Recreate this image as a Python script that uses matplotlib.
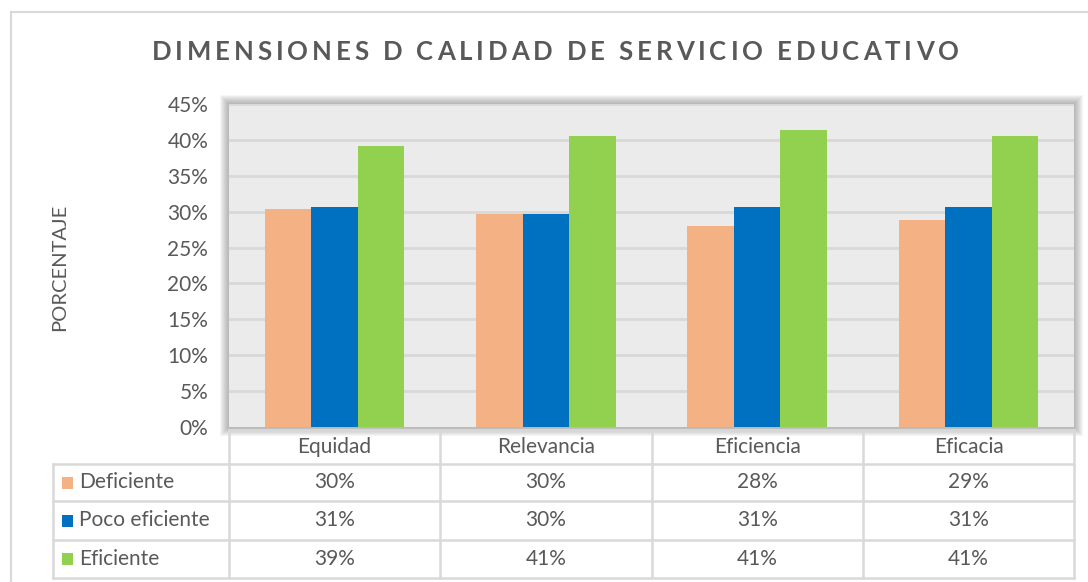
import matplotlib
matplotlib.use("Agg")
import matplotlib.pyplot as plt
from matplotlib.patches import Rectangle
from matplotlib.lines import Line2D

# ---------------- data ----------------
categories = ["Equidad", "Relevancia", "Eficiencia", "Eficacia"]
series_names = ["Deficiente", "Poco eficiente", "Eficiente"]
deficiente = [30.4, 29.7, 28.0, 28.9]
poco_eficiente = [30.6, 29.7, 30.6, 30.6]
eficiente = [39.1, 40.55, 41.4, 40.55]
yticks = [0, 5, 10, 15, 20, 25, 30, 35, 40, 45]
ytick_labels = [f"{t}%" for t in yticks]
title = "DIMENSIONES D CALIDAD DE SERVICIO EDUCATIVO"
ylabel = "PORCENTAJE"

series = [deficiente, poco_eficiente, eficiente]
colors = ["#F4B183", "#0070C0", "#92D050"]
TXT = "#595959"
GRID = "#D9D9D9"
FONT = ["Lato", "DejaVu Sans"]
FS = 15

W, H = 1088, 582
fig = plt.figure(figsize=(W / 100, H / 100), dpi=100)
fig.patch.set_facecolor("white")


def fx(x):
    return x / W


def fy(y):
    return 1 - y / H


# outer chart border
fig.add_artist(Rectangle((fx(11), fy(600)), fx(1100) - fx(11), fy(12) - fy(600),
                         transform=fig.transFigure, facecolor="none",
                         edgecolor="#D9D9D9", lw=1.5, zorder=0))

# plot area geometry
L, R, T, B = 229, 1074, 104, 427

# soft shadow around the plot area
for i in range(1, 10):
    fig.add_artist(Rectangle((fx(L - i), fy(B + i)), fx(R + i) - fx(L - i), fy(T - i) - fy(B + i),
                             transform=fig.transFigure, facecolor="#707070",
                             edgecolor="none", alpha=0.065, zorder=0.5))

ax = fig.add_axes([fx(L), fy(B), fx(R) - fx(L), fy(T) - fy(B)], zorder=2)
ax.set_facecolor("#EBEBEB")
ax.set_xlim(-0.5, len(categories) - 0.5)
ax.set_ylim(0, 45)
bw = 0.22
for k, (vals, c) in enumerate(zip(series, colors)):
    xs = [i + (k - 1) * bw for i in range(len(categories))]
    ax.bar(xs, vals, width=bw, color=c, zorder=3, linewidth=0)
for t in yticks[1:]:
    ax.axhline(t, color=GRID, lw=2, zorder=1)
ax.set_yticks(yticks)
ax.set_yticklabels(ytick_labels, fontsize=FS, color=TXT, family=FONT)
ax.tick_params(axis="y", length=0, pad=15)
ax.set_xticks([])
for s in ax.spines.values():
    s.set_visible(False)

# y label
fig.text(fx(60), fy(267), ylabel, rotation=90, ha="center", va="center",
         fontsize=14.5, color=TXT, family=FONT)

# title with letter spacing
fs_title = 18.5
tracking = 3.9  # px
renderer = fig.canvas.get_renderer()
widths = []
for ch in title:
    tt = fig.text(0, 0, ch if ch != " " else "i", fontsize=fs_title, family=FONT, weight="bold")
    bb = tt.get_window_extent(renderer)
    widths.append(bb.width if ch != " " else bb.width * 0.9)
    tt.remove()
total = sum(widths) + tracking * (len(title) - 1)
cx = 555
x0 = cx - total / 2
xpos = x0
for ch, w in zip(title, widths):
    if ch != " ":
        fig.text(fx(xpos), fy(52), ch, fontsize=fs_title, family=FONT, weight="bold",
                 color=TXT, ha="left", va="center")
    xpos += w + tracking

# ---------------- data table ----------------
col_edges = [229, 440, 652, 863, 1074]
row_edges = [430, 464, 501, 540, 578]
leg_left = 53
lc = GRID
lw = 1.8


def hline(y, x1, x2):
    fig.add_artist(Line2D([fx(x1), fx(x2)], [fy(y), fy(y)], transform=fig.transFigure,
                          color=lc, lw=lw, zorder=3))


def vline(x, y1, y2):
    fig.add_artist(Line2D([fx(x), fx(x)], [fy(y1), fy(y2)], transform=fig.transFigure,
                          color=lc, lw=lw, zorder=3))


hline(row_edges[0], col_edges[0], col_edges[-1])
for y in row_edges[1:]:
    hline(y, leg_left, col_edges[-1])
for x in col_edges:
    vline(x, row_edges[0], row_edges[-1])
vline(leg_left, row_edges[1], row_edges[-1])

for j, cat in enumerate(categories):
    xc = (col_edges[j] + col_edges[j + 1]) / 2
    yc = (row_edges[0] + row_edges[1]) / 2
    fig.text(fx(xc), fy(yc), cat, ha="center", va="center", fontsize=FS,
             color=TXT, family=FONT, zorder=4)

for r, (name, vals, c) in enumerate(zip(series_names, series, colors)):
    yc = (row_edges[r + 1] + row_edges[r + 2]) / 2
    fig.add_artist(Rectangle((fx(62), fy(yc + 6)), fx(73) - fx(62), fy(yc - 6) - fy(yc + 6),
                             transform=fig.transFigure, facecolor=c, edgecolor="none", zorder=4))
    fig.text(fx(79), fy(yc), name, ha="left", va="center", fontsize=FS,
             color=TXT, family=FONT, zorder=4)
    for j, v in enumerate(vals):
        xc = (col_edges[j] + col_edges[j + 1]) / 2
        fig.text(fx(xc), fy(yc), f"{v:.0f}%", ha="center", va="center", fontsize=FS,
                 color=TXT, family=FONT, zorder=4)

fig.savefig("out.png", dpi=100, facecolor="white")
